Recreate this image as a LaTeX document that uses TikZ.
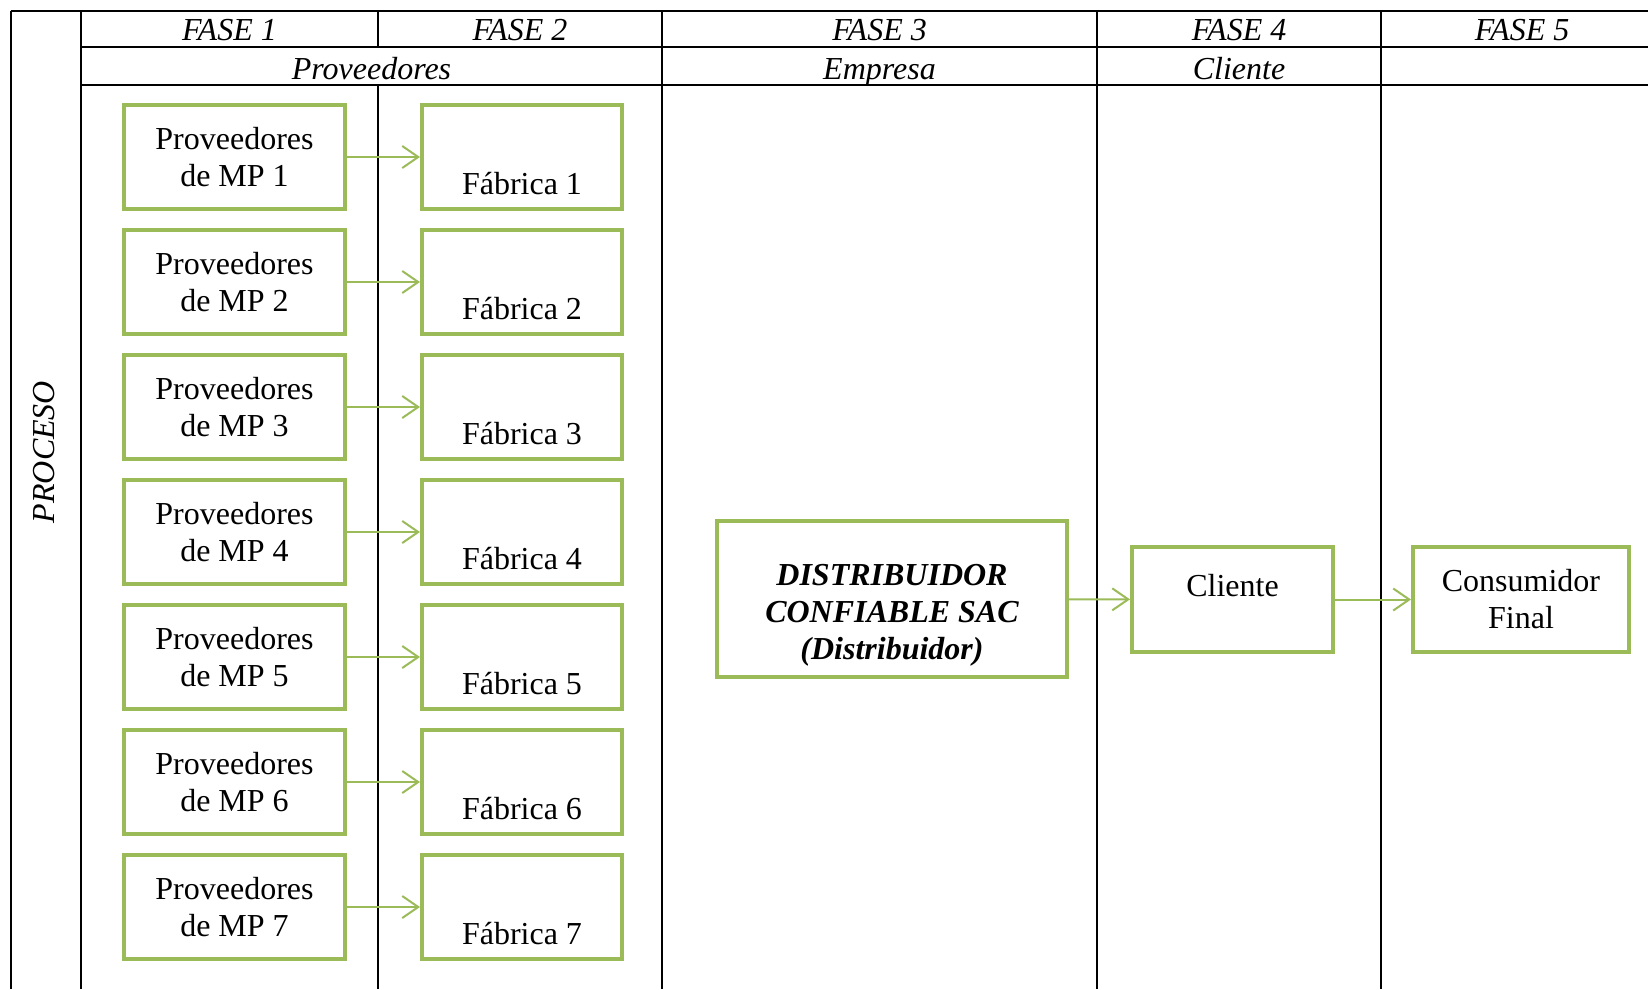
\documentclass[tikz,border=0pt]{standalone}
\usepackage{fontspec}
\setmainfont{Liberation Serif}
\usetikzlibrary{arrows.meta}
\definecolor{verde}{RGB}{155,187,89}
\newcommand{\letra}{\fontsize{32}{37}\selectfont}

\begin{document}
\begin{tikzpicture}[x=1pt, y=-1pt,
	linea/.style={black,line width=2pt},
	titulo/.style={font=\letra\itshape,anchor=base},
	caja/.style={draw=verde,line width=4pt,fill=white,align=center,font=\letra,minimum height=104pt},
	flecha/.style={verde,line width=2pt,-{Straight Barb[length=16pt,width=22pt]}}]
	\useasboundingbox (0,0) rectangle (1648,989);

	% tabla
	\draw[linea] (10.5,10.5) -- (1648,10.5)
	(81,47) -- (1648,47)
	(81,85) -- (1648,85)
	(10.5,10.5) -- (10.5,989)
	(81,10.5) -- (81,989)
	(378,10.5) -- (378,47)
	(378,85) -- (378,989)
	(662,10.5) -- (662,989)
	(1097,10.5) -- (1097,989)
	(1381,10.5) -- (1381,989);

	% encabezados
	\path (229.5,40.5) node[titulo] (f1) {FASE 1}
	(520,40.5) node[titulo] (f2) {FASE 2}
	(879.5,40.5) node[titulo] (f3) {FASE 3}
	(1239,40.5) node[titulo] (f4) {FASE 4}
	(1522,40.5) node[titulo] (f5) {FASE 5}
	(371.5,79) node[titulo] (prov) {Proveedores}
	(879.5,79) node[titulo] (emp) {Empresa}
	(1239,79) node[titulo] (cli) {Cliente}
	(44,452) node[titulo,anchor=center,rotate=90] (proc) {PROCESO};

	% proveedores y fabricas
	\path (234.5,157) node[caja,minimum width=221pt] (p1) {Proveedores\\de MP 1}
	(234.5,282) node[caja,minimum width=221pt] (p2) {Proveedores\\de MP 2}
	(234.5,407) node[caja,minimum width=221pt] (p3) {Proveedores\\de MP 3}
	(234.5,532) node[caja,minimum width=221pt] (p4) {Proveedores\\de MP 4}
	(234.5,657) node[caja,minimum width=221pt] (p5) {Proveedores\\de MP 5}
	(234.5,782) node[caja,minimum width=221pt] (p6) {Proveedores\\de MP 6}
	(234.5,907) node[caja,minimum width=221pt] (p7) {Proveedores\\de MP 7}
	(522,157) node[caja,minimum width=200pt] (fa1) {\mbox{}\\[38pt]Fábrica 1}
	(522,282) node[caja,minimum width=200pt] (fa2) {\mbox{}\\[38pt]Fábrica 2}
	(522,407) node[caja,minimum width=200pt] (fa3) {\mbox{}\\[38pt]Fábrica 3}
	(522,532) node[caja,minimum width=200pt] (fa4) {\mbox{}\\[38pt]Fábrica 4}
	(522,657) node[caja,minimum width=200pt] (fa5) {\mbox{}\\[38pt]Fábrica 5}
	(522,782) node[caja,minimum width=200pt] (fa6) {\mbox{}\\[38pt]Fábrica 6}
	(522,907) node[caja,minimum width=200pt] (fa7) {\mbox{}\\[38pt]Fábrica 7};

	% distribucion
	\path (892,599) node[caja,minimum width=350pt,minimum height=156pt,font=\letra\bfseries\itshape] (dist) {\mbox{}\\[16pt]DISTRIBUIDOR\\CONFIABLE SAC\\(Distribuidor)}
	(1232.5,599.5) node[caja,minimum width=201pt,minimum height=105pt] (cl) {Cliente\\[-8pt]\mbox{}}
	(1521,599.5) node[caja,minimum width=216pt,minimum height=105pt] (cf) {Consumidor\\Final};

	\draw[flecha] (p1) -- (fa1);
	\draw[flecha] (p2) -- (fa2);
	\draw[flecha] (p3) -- (fa3);
	\draw[flecha] (p4) -- (fa4);
	\draw[flecha] (p5) -- (fa5);
	\draw[flecha] (p6) -- (fa6);
	\draw[flecha] (p7) -- (fa7);
	\draw[flecha] (dist) -- (cl);
	\draw[flecha] (cl) -- (cf);

\end{tikzpicture}
\end{document}
